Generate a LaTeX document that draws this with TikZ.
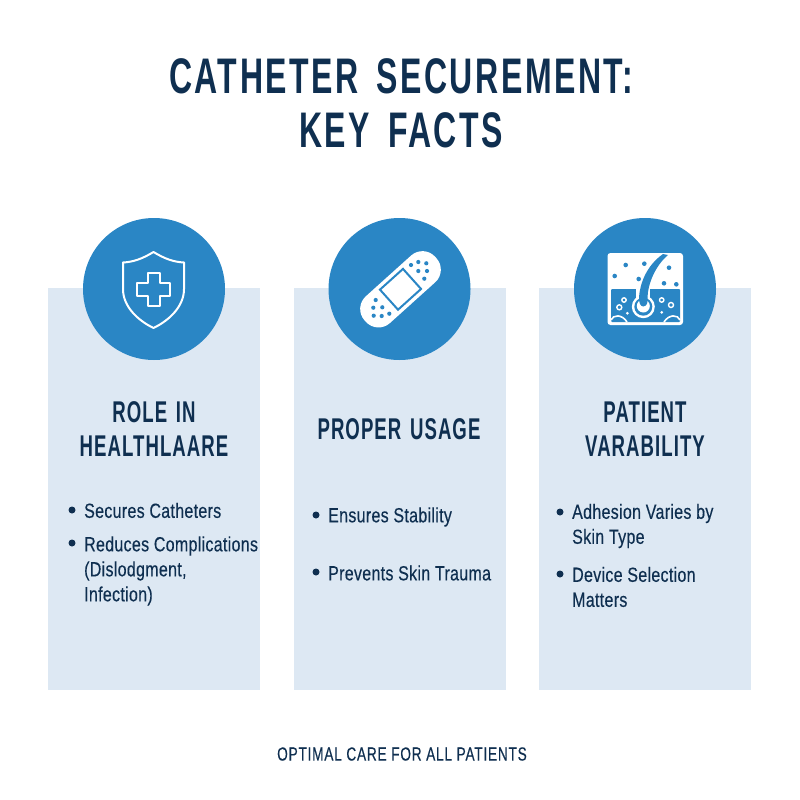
\documentclass[tikz,border=0pt]{standalone}
\usepackage{fontspec}
\setmainfont{Liberation Sans}
\newfontfamily\titlefont[BoldFeatures={FakeStretch=0.64,LetterSpace=5,WordSpace=1.6}]{Liberation Sans}
\newfontfamily\headfont[BoldFeatures={FakeStretch=0.62,LetterSpace=3.5,WordSpace=1.4}]{Liberation Sans}
\newfontfamily\itemfont[FakeStretch=0.78,LetterSpace=1.5,FakeBold=0.3]{Liberation Sans}
\newfontfamily\footfont[FakeStretch=0.72,LetterSpace=4,FakeBold=0.3]{Liberation Sans}
\usetikzlibrary{positioning}
\definecolor{navy}{HTML}{0F2F50}
\definecolor{badgeblue}{HTML}{2A86C5}
\definecolor{panelblue}{HTML}{DDE8F3}
\tikzstyle{panel} = [rectangle, fill=panelblue, minimum width=212pt, minimum height=402pt, inner sep=0pt]
\tikzstyle{badge} = [circle, fill=badgeblue, minimum size=142pt, inner sep=0pt]
\tikzstyle{title} = [text=navy, align=center, font=\titlefont\bfseries\fontsize{50}{54}\selectfont]
\tikzstyle{heading} = [text=navy, align=center, font=\headfont\bfseries\fontsize{30}{34}\selectfont]
\tikzstyle{item} = [text=navy, anchor=west, align=left, inner sep=0pt, font=\itemfont\fontsize{20.5}{25}\selectfont]
\tikzstyle{dot} = [circle, fill=navy, minimum size=7pt, inner sep=0pt]
\tikzstyle{iconline} = [draw=white, line width=2pt, line join=round]
\tikzstyle{speck} = [circle, fill=badgeblue, inner sep=0pt]
\begin{document}
\begin{tikzpicture}[x=1pt, y=-1pt]
    \useasboundingbox (0,0) rectangle (800,800);
    \fill[white] (0,0) rectangle (800,800);
    % Place nodes
    \node [title] (title) at (401,103) {CATHETER SECUREMENT:\\KEY FACTS};
    \node [panel] (panel1) at (154,489) {};
    \node [panel, right of=panel1, node distance=245.5pt] (panel2) {};
    \node [panel, right of=panel2, node distance=245.5pt] (panel3) {};
    \node [badge] (badge1) at (154,289) {};
    \node [badge, right of=badge1, node distance=245.5pt] (badge2) {};
    \node [badge, right of=badge2, node distance=245.5pt] (badge3) {};
    \node [heading] (head1) at (154,429) {ROLE IN\\HEALTHLAARE};
    \node [heading] (head2) at (399,429) {PROPER USAGE};
    \node [heading] (head3) at (645,429) {PATIENT\\VARABILITY};

    \node [item] (item11) at (84,510.5) {Secures Catheters};
    \node [item] (item12) at (84,571) {Reduces Complications\\(Dislodgment,\\Infection)};
    \node [item] (item21) at (328,517) {Ensures Stability};
    \node [item] (item22) at (328,573) {Prevents Skin Trauma};
    \node [item] (item31) at (572,526) {Adhesion Varies by\\Skin Type};
    \node [item] (item32) at (572,587) {Device Selection\\Matters};

    \node [dot] (dot11) at (72,510) {};
    \node [dot] (dot12) at (72,543) {};
    \node [dot] (dot21) at (316,515) {};
    \node [dot] (dot22) at (316,572) {};
    \node [dot] (dot31) at (560,512) {};
    \node [dot] (dot32) at (560,574) {};

    \node [text=navy, font=\footfont\fontsize{19}{22}\selectfont] (foot) at (402,754) {OPTIMAL CARE FOR ALL PATIENTS};

    % Shield icon
    \draw [iconline] (153.5,252) .. controls (142,259) and (133,262) .. (123,262.5)
        -- (123,289) .. controls (123,306) and (137,320) .. (153.5,328)
        .. controls (170,320) and (184,306) .. (184,289) -- (184,262.5)
        .. controls (174,262) and (165,259) .. (153.5,252) -- cycle;
    \draw [iconline] (147.5,273) -- (159.5,273) -- (159.5,283) -- (170,283) -- (170,295.5) -- (159.5,295.5)
        -- (159.5,306) -- (147.5,306) -- (147.5,295.5) -- (137,295.5) -- (137,283) -- (147.5,283) -- cycle;

    % Plaster icon
    \begin{scope}[shift={(400.5,289.3)}, rotate=42]
        \fill [white, rounded corners=17pt] (-47.5,-18) rectangle (47.5,18);
        \draw [draw=badgeblue, fill=white, line width=2pt] (-15.5,-13.5) rectangle (15.5,13.5);
    \end{scope}
    \foreach \px/\py in {411/265, 418.3/262, 426.3/263.3, 418.3/271, 427/271, 424.3/278.7,
                         375.7/300, 373.3/307.7, 382.3/307.3, 389.3/313.7, 373.7/315.7, 381.7/316}
        \node [speck, minimum size=4.2pt] at (\px,\py) {};

    % Skin icon
    \fill [white, rounded corners=3pt] (607.5,253) rectangle (683,325);
    \fill [badgeblue, rounded corners=1pt] (611,289) rectangle (680,322);
    \fill [white] (636,289) rectangle (650,300);
    \fill [white] (643.3,306.7) circle (11.5pt);
    \fill [badgeblue] (643.3,306.7) circle (9pt);
    \fill [white] (643.3,306) circle (6.5pt);
    \fill [badgeblue] (639,297) .. controls (640,284) and (646,266) .. (663,254)
        -- (668,255) .. controls (655,266) and (648,284) .. (647.5,297)
        .. controls (648,303) and (647,306) .. (643.3,306.5) .. controls (640,306) and (639,303) .. (639,297) -- cycle;
    \foreach \px/\py in {625.7/265, 644.3/263.7, 669/267.7, 614.7/276, 638.7/279, 664/283.3, 676.3/284.3}
        \node [speck, minimum size=4.6pt] at (\px,\py) {};
    \foreach \px/\py/\pr in {624/300/2.2, 619.3/307.3/2.5, 661.7/300/2.2, 671/305/2.5}
        \draw [white, line width=1.4pt] (\px,\py) circle (\pr pt);
    \foreach \px/\py in {627.3/313.3, 661.7/312.3}
        \fill [white] (\px,\py) circle (1.5pt);
    \draw [white, line width=1.6pt] (611,320) .. controls (613,314.5) and (622,314) .. (627,322);
    \draw [white, line width=1.6pt] (680,320) .. controls (678,314.5) and (669,314) .. (664,322);
\end{tikzpicture}
\end{document}
